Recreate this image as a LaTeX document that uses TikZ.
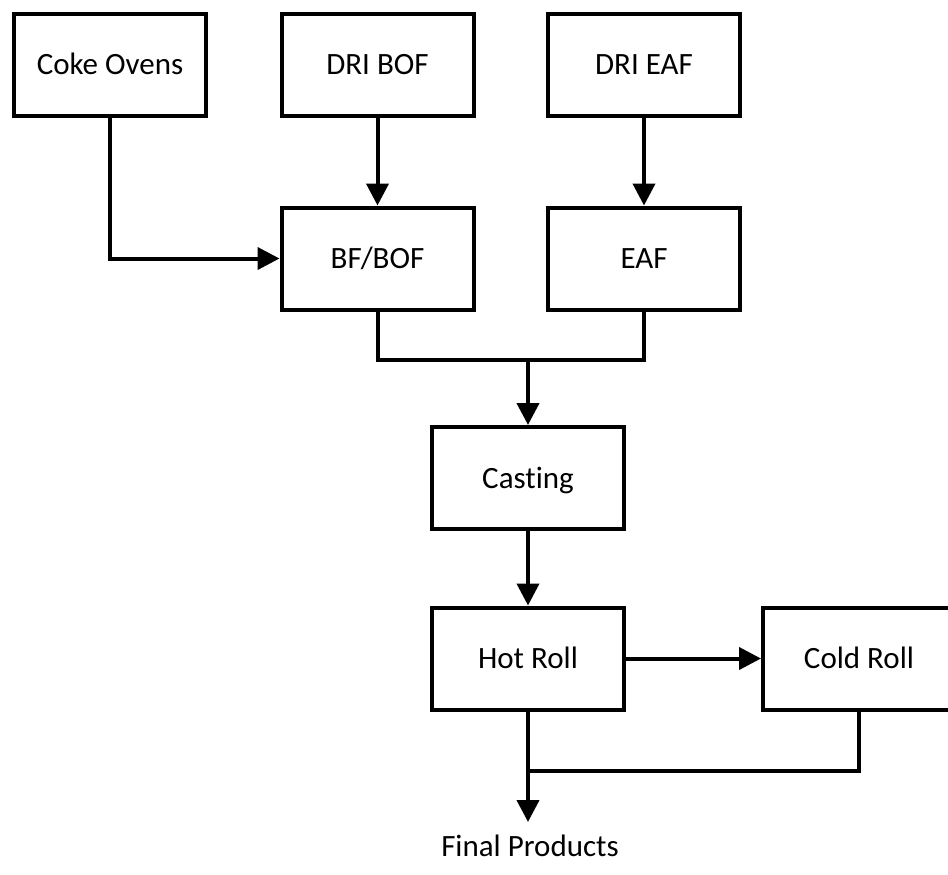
\documentclass[tikz,border=0pt]{standalone}
\usepackage{fontspec}
\setmainfont[Ligatures=NoCommon]{Carlito}
\usetikzlibrary{arrows.meta}
\begin{document}
\begin{tikzpicture}[x=0.5pt,y=-0.5pt,
  lbl/.style={font=\fontsize{15.5}{18}\selectfont, text height=10pt, text depth=0pt, inner sep=0pt},
  box/.style={lbl, draw, line width=2pt, minimum width=96pt, minimum height=51pt},
  conn/.style={line width=2pt},
  arr/.style={conn, -{Triangle[length=11pt,width=11pt]}}]
\useasboundingbox (0,0) rectangle (948,874);
\node[box] (coke) at (110,64.5) {Coke Ovens};
\node[box] (dribof) at (377.5,64.5) {DRI BOF};
\node[box] (drieaf) at (644,64.5) {DRI EAF};
\node[box] (bfbof) at (377.5,258.5) {BF/BOF};
\node[box] (eaf) at (644,258.5) {EAF};
\node[box] (casting) at (528,478) {Casting};
\node[box] (hot) at (528,658.5) {Hot Roll};
\node[box] (cold) at (859,658.5) {Cold Roll};
\node[lbl] (final) at (530,846) {Final Products};
\coordinate (m1) at (528,360);
\coordinate (m2) at (528,771);
\coordinate (tip) at (528,822);
\draw[arr] (coke.south) |- (bfbof.west);
\draw[arr] (dribof) -- (bfbof);
\draw[arr] (drieaf) -- (eaf);
\draw[conn] (bfbof.south) |- (m1) -| (eaf.south);
\draw[arr] (m1) -- (casting.north);
\draw[arr] (casting) -- (hot);
\draw[arr] (hot) -- (cold);
\draw[conn] (cold.south) |- (m2);
\draw[arr] (hot.south) -- (tip);
\end{tikzpicture}
\end{document}
